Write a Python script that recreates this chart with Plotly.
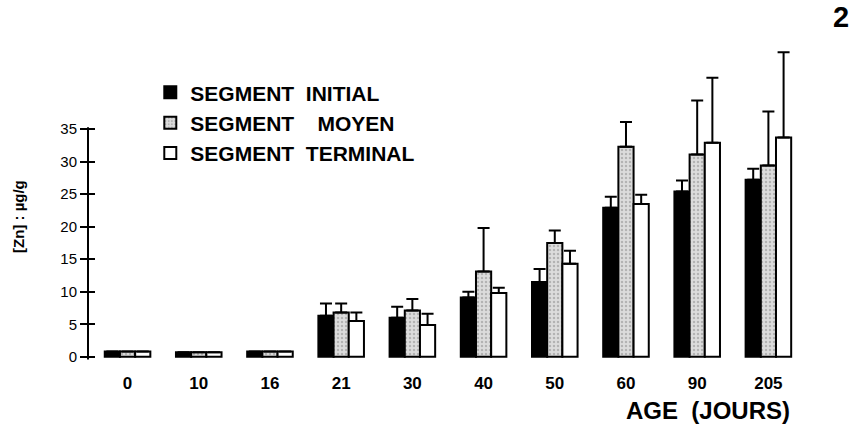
import plotly.graph_objects as go

ages = ["0", "10", "16", "21", "30", "40", "50", "60", "90", "205"]
initial = [0.8, 0.7, 0.8, 6.3, 6.0, 9.1, 11.5, 22.9, 25.4, 27.2]
initial_err = [0, 0, 0, 1.9, 1.7, 0.9, 2.0, 1.7, 1.7, 1.7]
moyen = [0.8, 0.7, 0.8, 6.8, 7.1, 13.1, 17.5, 32.3, 31.1, 29.4]
moyen_err = [0, 0, 0, 1.4, 1.8, 6.7, 1.9, 3.8, 8.3, 8.3]
terminal = [0.8, 0.7, 0.8, 5.5, 4.9, 9.8, 14.3, 23.5, 32.9, 33.7]
terminal_err = [0, 0, 0, 1.3, 1.7, 0.8, 2.0, 1.4, 10.0, 13.1]
y_ticks = [0, 5, 10, 15, 20, 25, 30, 35]

NB = "\u00a0"
names = ["SEGMENT" + NB * 2 + "INITIAL", "SEGMENT" + NB * 4 + "MOYEN", "SEGMENT" + NB * 2 + "TERMINAL"]

def err(a):
    return dict(type="data", array=a, arrayminus=[0] * len(a), symmetric=False,
                color="black", thickness=2, width=6)

fig = go.Figure()
fig.add_trace(go.Bar(x=ages, y=initial, name=names[0], error_y=err(initial_err),
                     marker=dict(color="black", line=dict(color="black", width=2))))
fig.add_trace(go.Bar(x=ages, y=moyen, name=names[1], error_y=err(moyen_err),
                     marker=dict(color="#dcdcdc", line=dict(color="black", width=2),
                                 pattern=dict(shape=".", fgcolor="#8a8a8a", size=4, solidity=0.3))))
fig.add_trace(go.Bar(x=ages, y=terminal, name=names[2], error_y=err(terminal_err),
                     marker=dict(color="white", line=dict(color="black", width=2))))

font_main = "Liberation Sans, Arial, sans-serif"

fig.update_layout(
    width=858, height=429,
    margin=dict(l=88, r=54, t=40, b=67),
    paper_bgcolor="white", plot_bgcolor="white",
    barmode="group", bargap=0.36, bargroupgap=0,
    font=dict(family=font_main, color="black"),
    showlegend=True,
    legend=dict(x=0.087, y=0.9, xanchor="left", yanchor="top",
                bgcolor="rgba(0,0,0,0)",
                font=dict(size=21, family=font_main, color="black", weight="bold"),
                tracegroupgap=0, itemwidth=30, traceorder="normal"),
    xaxis=dict(type="category", showline=False, showgrid=False, zeroline=False,
               ticks="", tickfont=dict(size=17, family=font_main, color="black", weight="bold"),
               ticklabelstandoff=9),
    yaxis=dict(range=[-0.8, 48.7], tickvals=y_ticks, showgrid=False, zeroline=False,
               showline=False, ticks="outside", ticklen=7, tickwidth=2, tickcolor="black",
               tickfont=dict(size=15, family=font_main, color="black")),
    yaxis2=dict(range=[-0.8, 48.7], tickvals=y_ticks, overlaying="y", side="left",
                showgrid=False, zeroline=False, showline=False, ticks="inside", ticklen=7,
                tickwidth=2, tickcolor="black", showticklabels=False),
)
# invisible trace to activate yaxis2 for the cross ticks
fig.add_trace(go.Scatter(x=[ages[0]], y=[0], yaxis="y2", mode="markers",
                         marker=dict(opacity=0), showlegend=False, hoverinfo="skip"))

fig.add_shape(type="line", xref="paper", yref="y", x0=0, x1=0, y0=-0.4, y1=35.3,
              line=dict(color="black", width=2))

fig.add_annotation(text="<b>[Zn] : µg/g</b>", xref="paper", yref="paper",
                   x=(18 - 88) / 716, y=1 - (217 - 40) / 322, xanchor="center", yanchor="middle",
                   textangle=-90, showarrow=False, font=dict(size=15, family=font_main, color="black"))
fig.add_annotation(text="<b>AGE" + NB * 2 + "(JOURS)</b>", xref="paper", yref="paper",
                   x=(708 - 88) / 716, y=1 - (410 - 40) / 322, xanchor="center", yanchor="middle",
                   showarrow=False, font=dict(size=24, family=font_main, color="black"))
fig.add_annotation(text="<b>2</b>", xref="paper", yref="paper",
                   x=(841 - 88) / 716, y=1 - (17 - 40) / 322, xanchor="center", yanchor="middle",
                   showarrow=False, font=dict(size=29, family=font_main, color="black"))

fig.write_html("out.html", config={"displayModeBar": False},
               post_script="document.body.style.margin='0';")
